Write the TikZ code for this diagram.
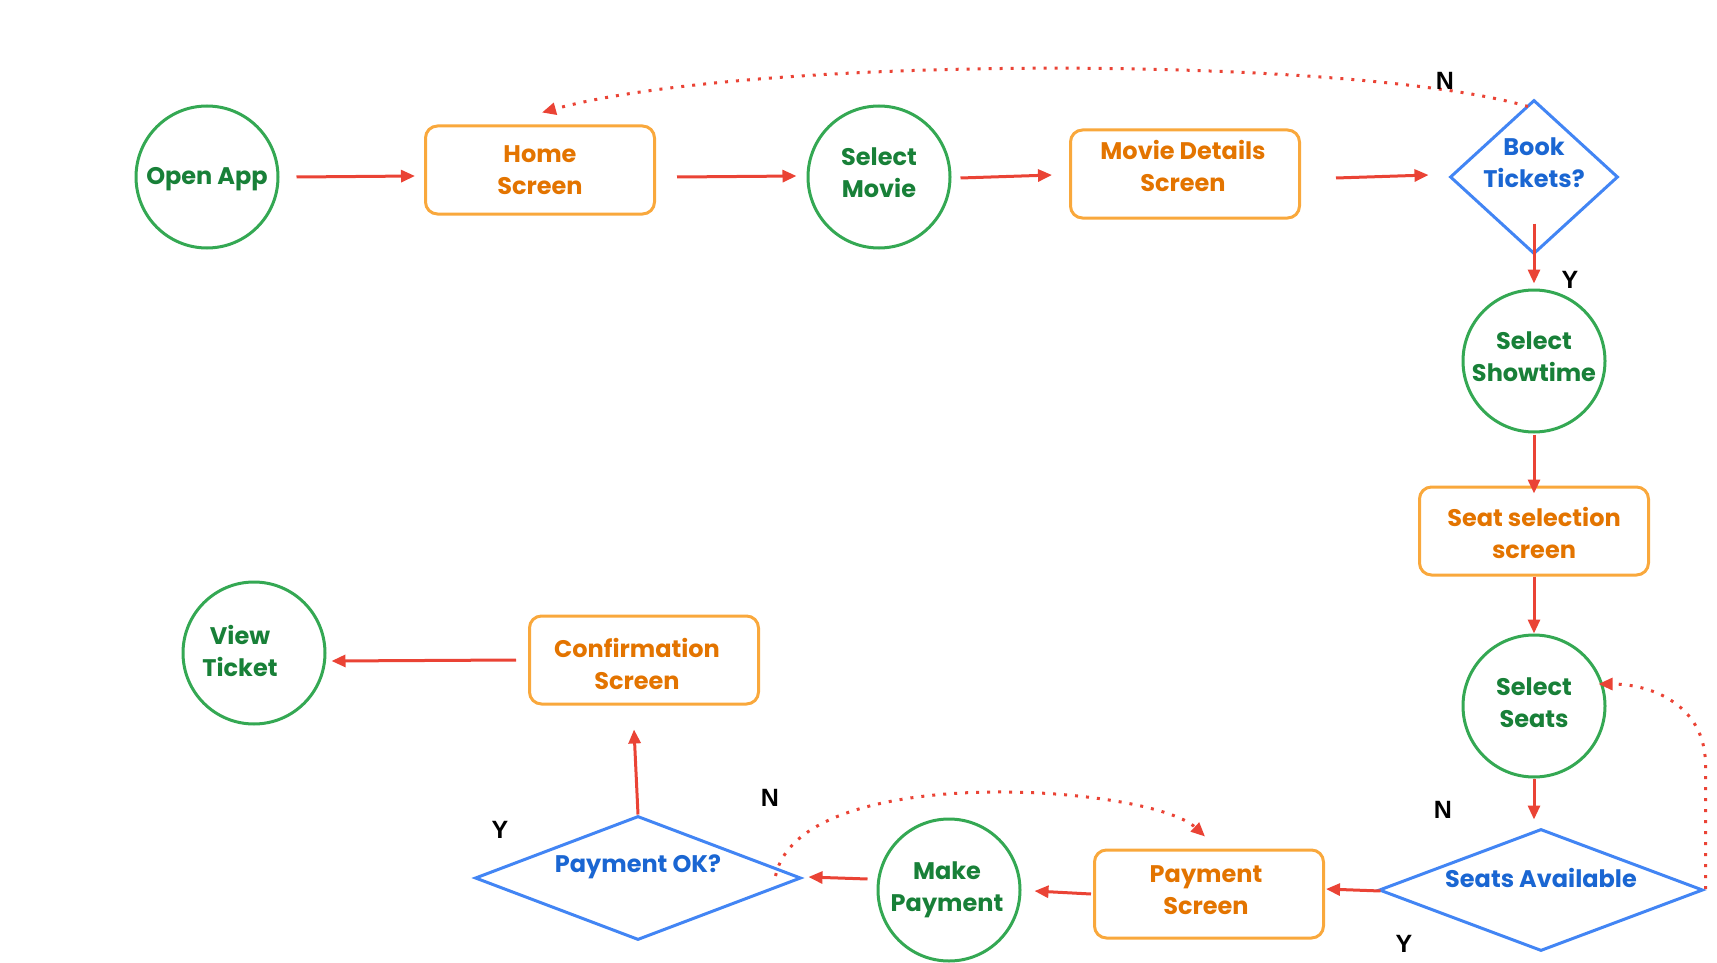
\documentclass[tikz,border=0pt]{standalone}
\usepackage{fontspec}
\setmainfont{Poppins}
\newfontfamily\ynfont{Liberation Sans}
\usetikzlibrary{shapes.geometric,arrows.meta}
\definecolor{gline}{HTML}{34A853}
\definecolor{gtext}{HTML}{188038}
\definecolor{oline}{HTML}{F9A83C}
\definecolor{otext}{HTML}{E37400}
\definecolor{bline}{HTML}{4285F4}
\definecolor{btext}{HTML}{1A66D2}
\definecolor{rline}{HTML}{EA4335}
\begin{document}
\begin{tikzpicture}[x=1pt,y=-1pt,
  font=\fontsize{24}{32}\selectfont\bfseries,
  circ/.style={circle,draw=gline,line width=3pt,minimum size=142pt,inner sep=0pt,text=gtext,align=center},
  scr/.style={rectangle,rounded corners=12pt,draw=oline,line width=3pt,minimum width=229pt,minimum height=88pt,inner sep=0pt,text=otext,align=center},
  dec/.style={diamond,draw=bline,line width=3pt,inner sep=0pt},
  ctext/.style={text=gtext,align=center},
  stext/.style={text=otext,align=center},
  dectext/.style={text=btext,align=center},
  flow/.style={draw=rline,line width=3pt,-{Triangle[length=14pt,width=12pt]}},
  loopback/.style={draw=rline,line width=3pt,dash pattern=on 3pt off 8pt,-{Triangle[length=14pt,width=12pt]}},
  yn/.style={font=\ynfont\fontsize{25}{25}\selectfont\bfseries,text=black}]
\useasboundingbox (0,0) rectangle (1717,963);

\node[circ,label={[ctext,yshift=-2pt]center:Open App}] (open) at (207,177) {};
\node[scr] (home) at (540,170) {Home\\Screen};
\node[circ,label={[ctext,yshift=4pt]center:Select\\Movie}] (movie) at (879,177) {};
\node[scr,label={[stext,xshift=-2pt,yshift=8pt]center:Movie Details\\Screen}] (details) at (1185,174) {};
\node[dec,minimum width=168pt,minimum height=154pt,label={[dectext,yshift=14pt]center:Book\\Tickets?}] (book) at (1534,177) {};
\node[circ,label={[ctext,yshift=4pt]center:Select\\Showtime}] (show) at (1534,361) {};
\node[scr,label={[stext,yshift=-2pt]center:Seat selection\\screen}] (seatsel) at (1534,531) {};
\node[circ,label={[ctext,yshift=3pt]center:Select\\Seats}] (seats) at (1534,706) {};
\node[dec,minimum width=324pt,minimum height=122pt,label={[dectext,yshift=12pt]center:Seats Available}] (avail) at (1541,890) {};
\node[scr,label={[stext,xshift=-3pt,yshift=4pt]center:Payment\\Screen}] (payscr) at (1209,894) {};
\node[circ,label={[ctext,xshift=-2pt]center:Make\\Payment}] (make) at (949,890) {};
\node[dec,minimum width=326pt,minimum height=124pt,label={[dectext,yshift=11pt]center:Payment OK?}] (payok) at (638,878) {};
\node[scr,label={[stext,xshift=-7pt,yshift=-4pt]center:Confirmation\\Screen}] (confirm) at (644,660) {};
\node[circ,label={[ctext,xshift=-14pt,yshift=2pt]center:View\\Ticket}] (view) at (254,653) {};

\draw[flow] ([shift={(17,0)}]open.east) -- ([shift={(-9,6)}]home.west);
\draw[flow] ([shift={(21,7)}]home.east) -- ([shift={(-10,-1)}]movie.west);
\draw[flow] ([shift={(9,1)}]movie.east) -- ([shift={(-17,1)}]details.west);
\draw[flow] ([shift={(35,4)}]details.east) -- ([shift={(-20,-2)}]book.west);
\draw[flow] ([shift={(0,-32)}]book.south) -- ([shift={(0,-5)}]show.north);
\draw[flow] ([shift={(0,1)}]show.south) -- ([shift={(0,8)}]seatsel.north);
\draw[flow] (seatsel.south) -- (seats.north);
\draw[flow] (seats.south) -- ([shift={(-7,-8)}]avail.north);
\draw[flow] ([shift={(3,1)}]avail.west) -- ([shift={(1,-5)}]payscr.east);
\draw[flow] ([shift={(-2,0)}]payscr.west) -- ([shift={(13,1)}]make.east);
\draw[flow] ([shift={(-9,-11)}]make.west) -- ([shift={(6,-1)}]payok.east);
\draw[flow] (payok.north) -- ([shift={(-10,24)}]confirm.south);
\draw[flow] ([shift={(-12,0)}]confirm.west) -- ([shift={(5,8)}]view.east);

\draw[loopback] ([shift={(-6,8)}]book.north) .. controls (1350,55) and (750,55) .. ([shift={(2,-12)}]home.north);
\draw[loopback] ([shift={(1,-1)}]avail.east) -- ([shift={(1,-125)}]avail.east)
  .. controls ([shift={(1,-185)}]avail.east) and ([shift={(45,-22)}]seats.east) .. ([shift={(-8,-22)}]seats.east);
\draw[loopback] ([shift={(-27,-2)}]payok.east) .. controls (800,760) and (1150,785) .. ([shift={(-4,-12)}]payscr.north);

\node[yn] (nbook) at (1445,81) {N};
\node[yn] (ybook) at (1570,280) {Y};
\node[yn] (navail) at (1443,810) {N};
\node[yn] (yavail) at (1404,944) {Y};
\node[yn] (ypay) at (500,830) {Y};
\node[yn] (npay) at (770,798) {N};
\end{tikzpicture}
\end{document}
